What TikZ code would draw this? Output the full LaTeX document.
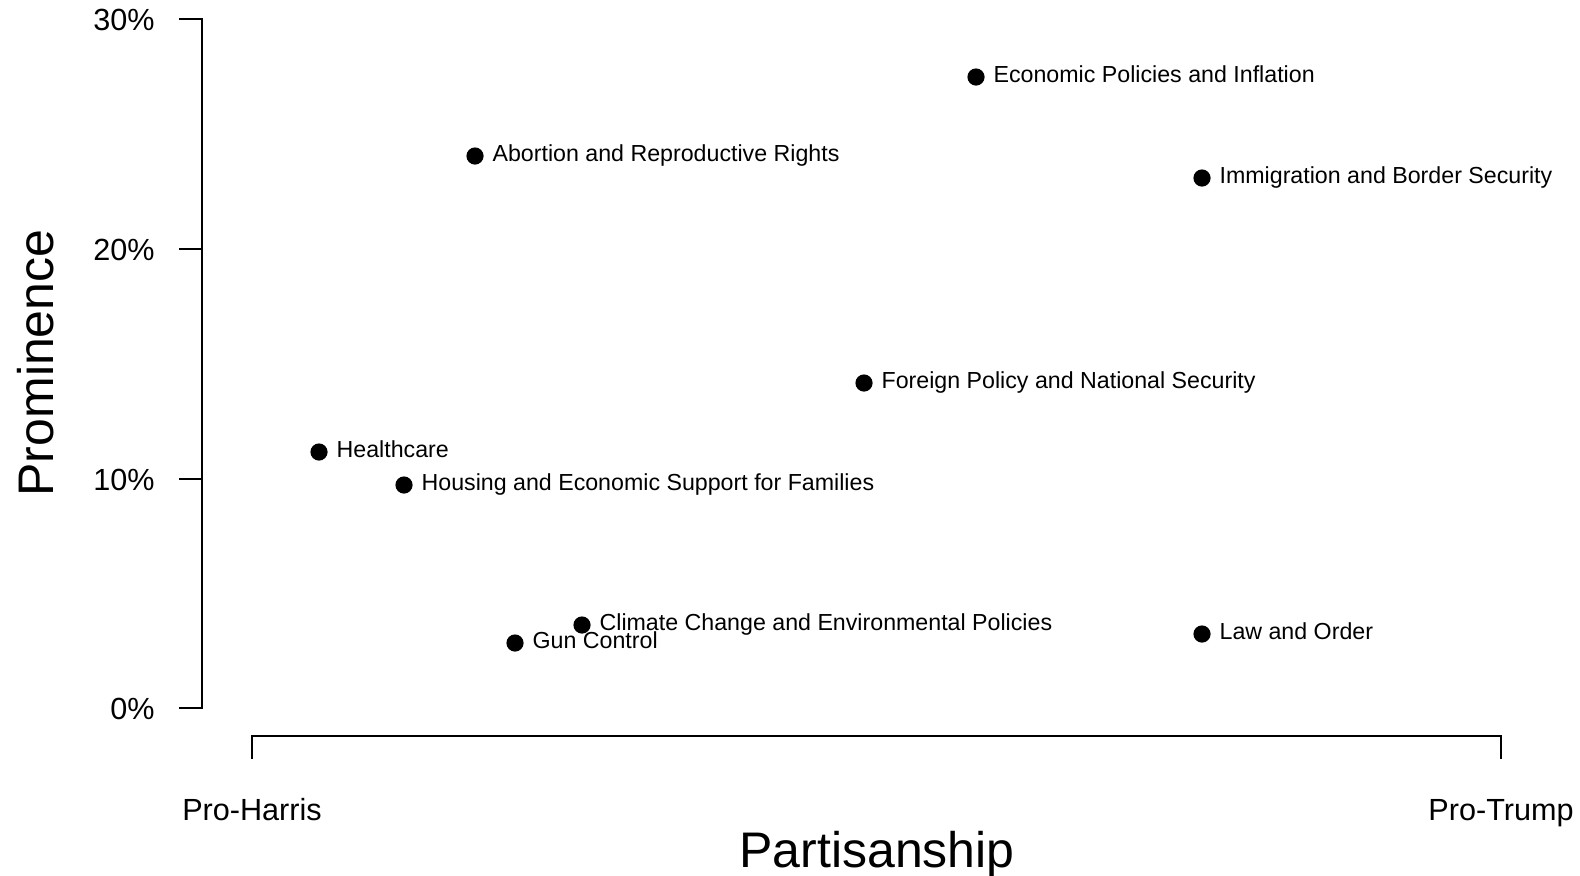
\documentclass[tikz,border=0pt]{standalone}
\usepackage{fontspec}
\setmainfont{Liberation Sans}
\usetikzlibrary{positioning}
\tikzstyle{dot} = [circle, fill=black, inner sep=0pt, minimum size=8.6pt]
\tikzstyle{ptlabel} = [font=\fontsize{11.6}{13}\selectfont, inner sep=0pt, anchor=base west]
\tikzstyle{ticklabel} = [font=\fontsize{15.3}{18}\selectfont, inner sep=0pt]
\tikzstyle{axistitle} = [font=\fontsize{25}{30}\selectfont, inner sep=0pt, anchor=base]
\tikzstyle{axis} = [draw, line width=1.3pt]

\begin{document}
\begin{tikzpicture}[x=0.5pt,y=-0.5pt]
    \useasboundingbox (0,0) rectangle (1580,875);
    % Prominence axis
    \draw[axis] (179,19) -- (202,19) -- (202,708) -- (179,708);
    \foreach \ty/\tlab in {19/30, 249/20, 479/10, 708/0}{
        \draw[axis] (179,\ty) -- (202,\ty);
        \node[ticklabel, anchor=base east] at (155,\ty+11) {\tlab\%};
    }
    \node[axistitle, rotate=90] (prominence) at (54,363) {Prominence};
    % Partisanship axis
    \coordinate (harris) at (252,736);
    \coordinate (trump) at (1501,736);
    \draw[axis] ([yshift=-11.5pt]harris) -- (harris) -- (trump) -- ([yshift=-11.5pt]trump);
    \node[ticklabel, anchor=base] (proharris) at (252,820) {Pro-Harris};
    \node[ticklabel, anchor=base] (protrump) at (1501,820) {Pro-Trump};
    \node[axistitle] (partisanship) at (877,867) {Partisanship};
    % Place issues
    \foreach \nm/\px/\py/\txt in {
        econ/976/77/Economic Policies and Inflation,
        abort/475/156/Abortion and Reproductive Rights,
        immig/1202/178/Immigration and Border Security,
        foreign/864/383/Foreign Policy and National Security,
        health/319/452/Healthcare,
        housing/404/485/Housing and Economic Support for Families,
        climate/582/625/Climate Change and Environmental Policies,
        gun/515/643/Gun Control,
        law/1202/634/Law and Order}{
        \node[dot] (\nm) at (\px,\py) {};
        \node[ptlabel] (\nm-lab) at ([xshift=8.6pt,yshift=-2.9pt]\nm.center) {\txt};
    }
\end{tikzpicture}
\end{document}
